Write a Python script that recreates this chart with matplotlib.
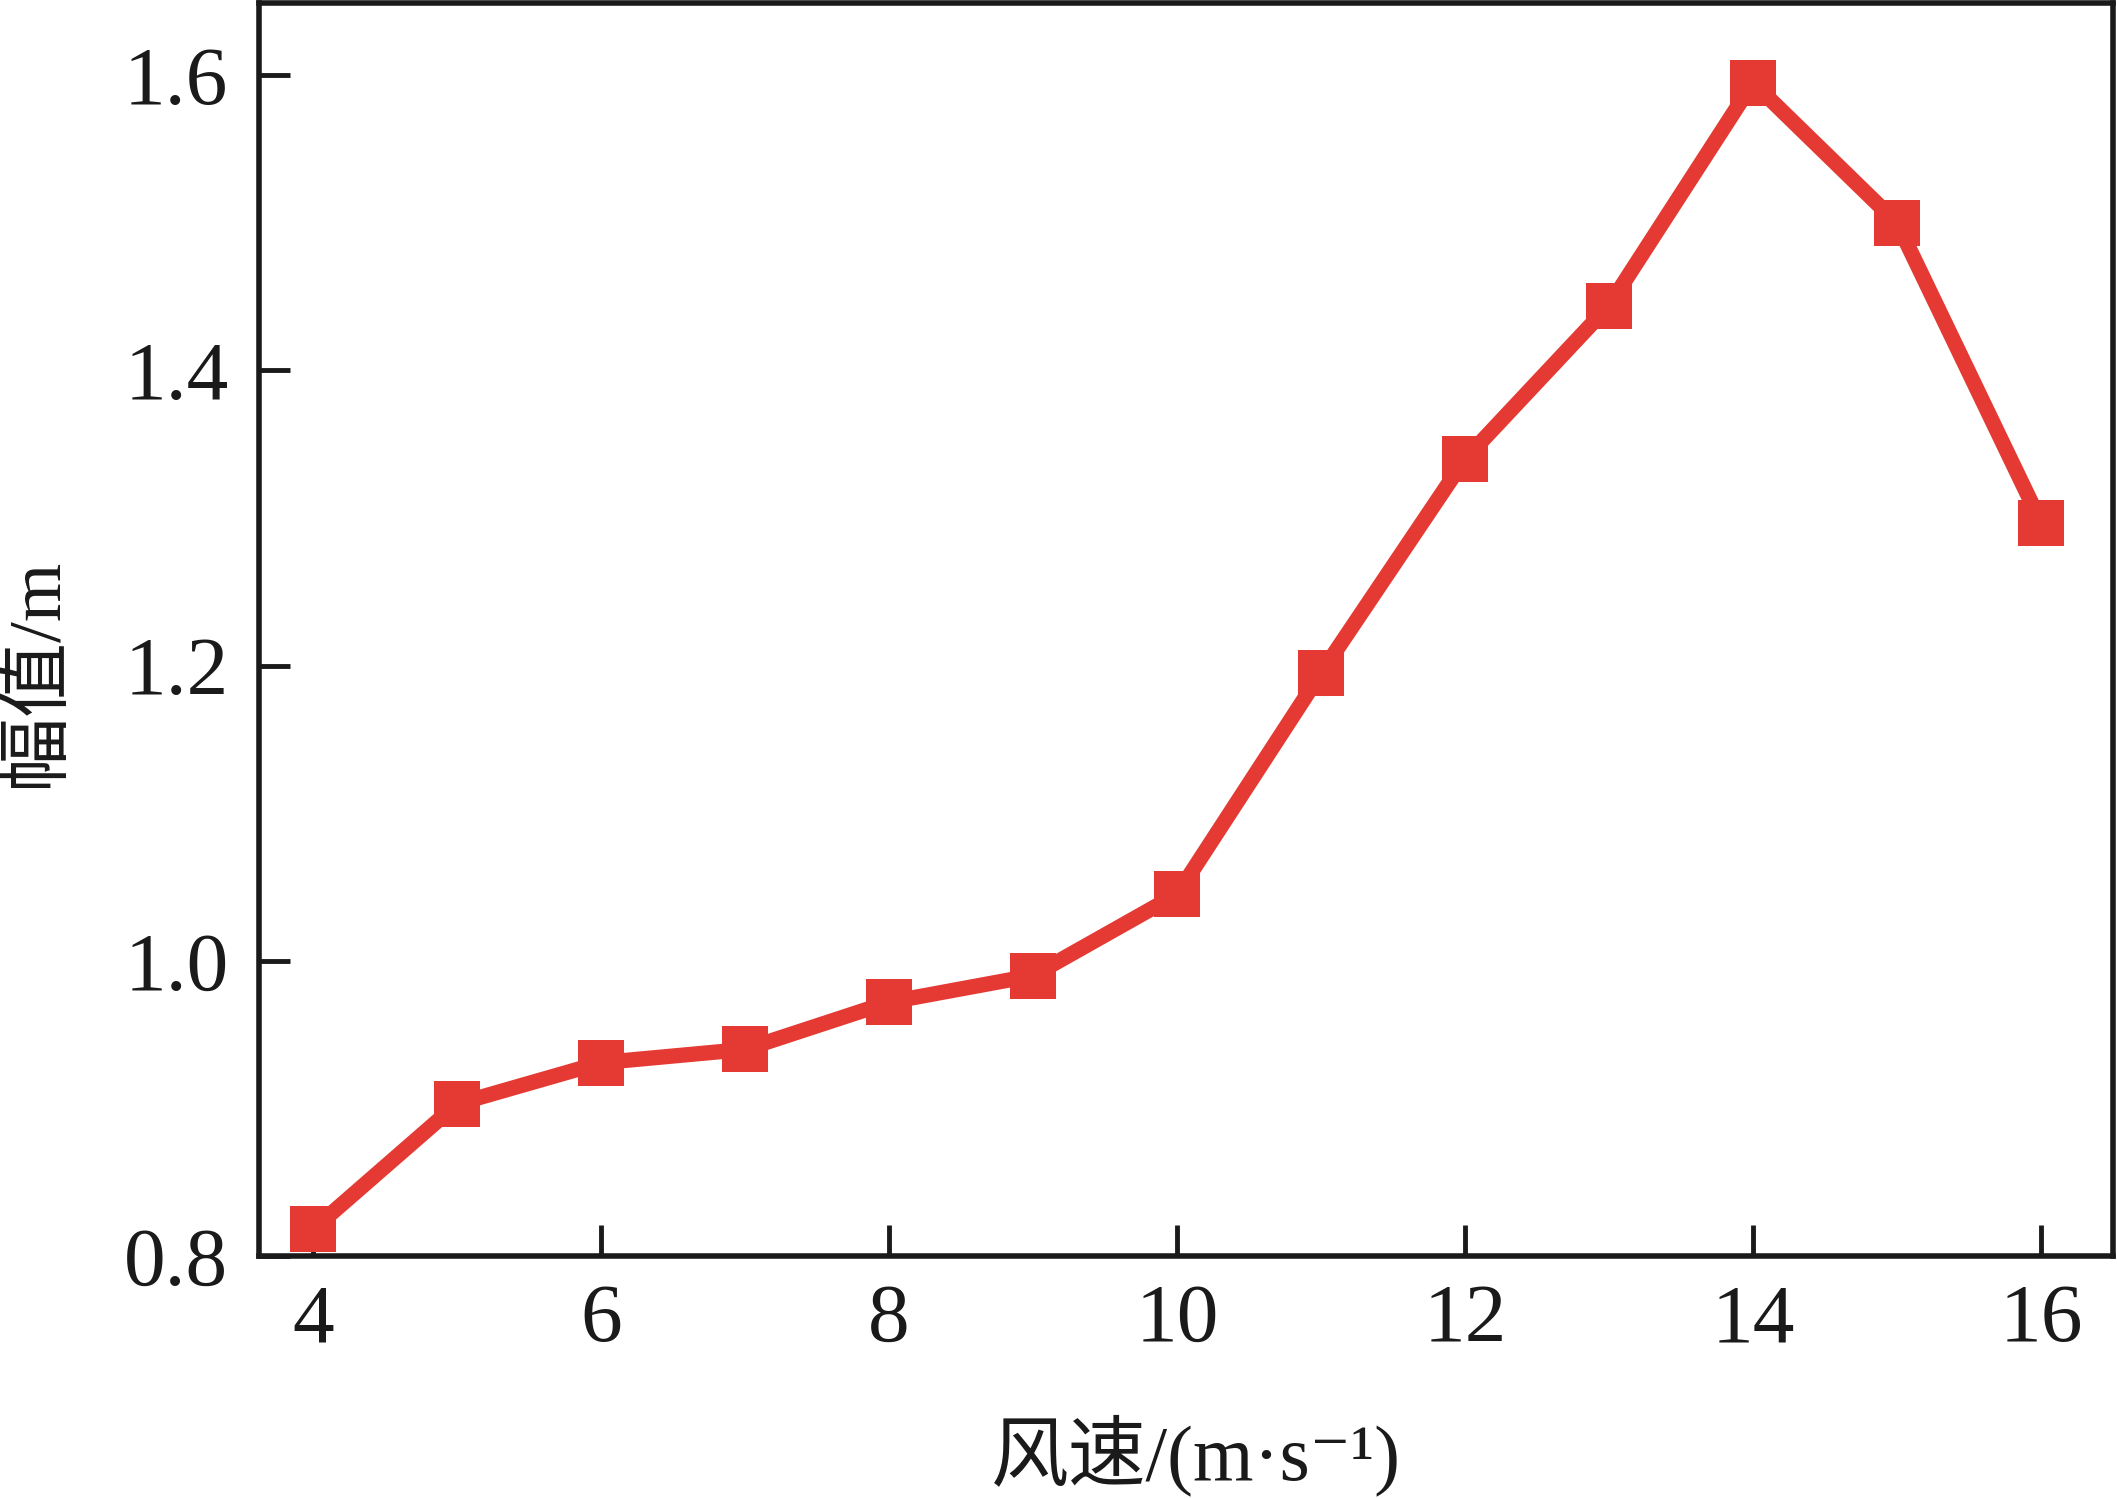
import matplotlib
matplotlib.use("Agg")
import matplotlib.pyplot as plt

wind_speed = [4, 5, 6, 7, 8, 9, 10, 11, 12, 13, 14, 15, 16]
amplitude = [0.818, 0.903, 0.931, 0.940, 0.972, 0.990, 1.045, 1.195, 1.340, 1.444, 1.595, 1.500, 1.297]
x_ticks = [4, 6, 8, 10, 12, 14, 16]
y_ticks = [0.8, 1.0, 1.2, 1.4, 1.6]
y_tick_labels = ["0.8", "1.0", "1.2", "1.4", "1.6"]

fam = ['Liberation Serif', 'Noto Sans CJK SC', 'DejaVu Sans']
plt.rcParams['font.family'] = fam

W, H = 2117, 1499
fig = plt.figure(figsize=(W / 100, H / 100), dpi=100)
ax = fig.add_axes([259 / W, 1 - 1256 / H, (2113 - 259) / W, (1256 - 3) / H])

ax.plot(wind_speed, amplitude, color='#E53A33', lw=11, marker='s', markersize=33,
        markeredgewidth=0, clip_on=False, zorder=3)

ax.set_xlim(3.625, 16.5)
ax.set_ylim(0.8, 1.649)
ax.set_xticks(x_ticks)
ax.set_xticklabels([str(v) for v in x_ticks])
ax.set_yticks(y_ticks)
ax.set_yticklabels(y_tick_labels)

ax.tick_params(direction='in', length=22, width=3.5, labelsize=60, colors='#1a1a1a',
               top=False, right=False)
ax.tick_params(axis='x', pad=20)
ax.tick_params(axis='y', pad=22)
for s in ax.spines.values():
    s.set_linewidth(4)
    s.set_color('#1a1a1a')

fig.text(1196 / W, 1 - 1455 / H, "风速/(m·s⁻¹)", fontsize=56, family=fam,
         color='#1a1a1a', ha='center', va='center')
fig.text(38 / W, 1 - 672 / H, "幅值/m", fontsize=54, family=fam, rotation=90,
         color='#1a1a1a', ha='center', va='center')

fig.savefig("out.png", dpi=100)
